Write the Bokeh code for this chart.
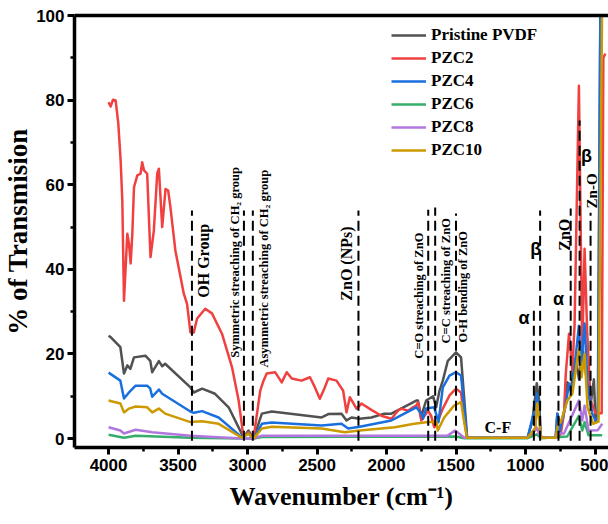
import math

from bokeh.core.properties import value
from bokeh.embed import file_html
from bokeh.models import (ColumnDataSource, FixedTicker, Legend, LegendItem,
                          LinearAxis, Range1d)
from bokeh.plotting import figure
from bokeh.resources import INLINE

# ---- FTIR spectra: wavenumber (cm^-1) and % transmission -------------------
pvdf_wn = [4000, 3985, 3915, 3889, 3865, 3843, 3817, 3735, 3700, 3686,
           3638, 3614, 3593, 3411, 3387, 3327, 3234, 3136, 3029, 2993,
           2957, 2897, 2826, 2467, 2419, 2324, 2288, 2252, 2195, 2109,
           2016, 1965, 1872, 1786, 1774, 1750, 1738, 1715, 1665, 1643,
           1619, 1595, 1559, 1500, 1464, 1440, 1420, 1300, 985, 950,
           919, 902, 890, 783, 771, 747, 711, 699, 675, 639,
           615, 591, 570, 555, 532, 508, 496, 480, 460]
pvdf_t = [24.3, 24.0, 21.6, 15.4, 17.3, 16.5, 19.2, 19.6, 18.4, 15.7,
          18.3, 17.1, 17.7, 12.1, 10.9, 11.8, 10.6, 7.4, 0.3, 1.9,
          0.0, 5.9, 6.4, 5.0, 5.8, 5.9, 4.3, 5.0, 4.7, 5.0,
          5.9, 5.9, 7.5, 9.0, 9.0, 5.0, 6.6, 9.0, 10.0, 7.4,
          11.3, 13.7, 18.4, 20.4, 19.2, 9.0, 0.3, 0.3, 0.2, 4.3,
          13.1, 9.0, 0.2, 0.2, 5.9, 2.7, 8.0, 13.3, 11.5, 19.0,
          14.0, 21.5, 17.0, 12.0, 8.0, 14.0, 4.0, 6.0, 110.0]

pzc2_wn = [4000, 3985, 3968, 3949, 3930, 3913, 3901, 3895, 3889, 3865,
           3853, 3841, 3829, 3817, 3793, 3770, 3758, 3745, 3722, 3705,
           3698, 3674, 3650, 3638, 3614, 3590, 3571, 3555, 3519, 3459,
           3435, 3411, 3387, 3363, 3304, 3256, 3184, 3112, 3064, 3029,
           2993, 2957, 2909, 2885, 2862, 2802, 2754, 2718, 2682, 2611,
           2551, 2515, 2480, 2444, 2419, 2360, 2312, 2288, 2264, 2216,
           2193, 2181, 2109, 2037, 1965, 1918, 1894, 1846, 1810, 1786,
           1774, 1750, 1702, 1679, 1657, 1643, 1595, 1547, 1500, 1464,
           1435, 1421, 1300, 1000, 960, 919, 895, 880, 785, 771,
           760, 747, 723, 711, 687, 663, 647, 616, 592, 575,
           556, 532, 496, 452, 440, 425]
pzc2_t = [79.5, 78.5, 80.1, 79.9, 74.5, 65.7, 56.3, 44.4, 32.6, 48.4,
          46.0, 41.4, 48.4, 59.4, 62.2, 62.6, 65.3, 63.4, 62.6, 48.4,
          42.9, 49.2, 62.6, 63.8, 50.0, 59.0, 58.6, 54.7, 44.4, 34.3,
          31.8, 25.1, 25.1, 28.4, 30.7, 29.6, 24.8, 16.9, 9.0, 0.3,
          1.5, 0.0, 11.3, 13.7, 15.4, 15.7, 13.3, 15.7, 14.2, 13.7,
          14.5, 12.1, 9.4, 12.1, 14.2, 13.7, 11.3, 6.2, 9.8, 7.1,
          7.8, 8.3, 6.8, 5.4, 4.7, 6.6, 7.1, 6.6, 7.4, 7.8,
          8.6, 4.3, 6.6, 5.4, 2.7, 3.1, 7.1, 10.2, 11.8, 10.9,
          3.5, 0.2, 0.2, 0.2, 0.8, 2.5, 1.0, 0.2, 0.2, 1.5,
          0.8, 1.0, 6.0, 15.0, 24.8, 16.0, 27.0, 83.4, 20.8, 44.9,
          24.8, 9.0, 6.0, 6.0, 90.0, 91.0]

pzc4_wn = [4000, 3915, 3889, 3853, 3805, 3722, 3700, 3686, 3638, 3614,
           3411, 3387, 3327, 3208, 3040, 2993, 2957, 2897, 2826, 2467,
           2324, 2276, 2193, 1965, 1872, 1786, 1750, 1738, 1715, 1657,
           1626, 1595, 1547, 1500, 1464, 1435, 1421, 1300, 985, 942,
           930, 919, 902, 890, 783, 771, 755, 747, 711, 687,
           668, 651, 616, 601, 575, 554, 520, 496, 478, 460]
pzc4_t = [15.6, 13.7, 9.5, 10.9, 12.5, 12.5, 11.8, 9.9, 11.6, 10.6,
          6.4, 6.1, 6.5, 5.0, 0.3, 1.2, 0.0, 3.5, 3.8, 3.1,
          3.5, 2.4, 2.8, 4.3, 5.9, 7.4, 5.9, 4.7, 7.1, 7.4,
          3.9, 12.1, 14.9, 15.7, 14.9, 5.0, 0.3, 0.3, 0.2, 5.9,
          3.0, 10.6, 6.0, 0.2, 0.2, 5.9, 1.5, 3.0, 8.0, 13.0,
          10.6, 15.6, 26.7, 16.8, 27.2, 13.0, 5.9, 4.3, 5.0, 110.0]

pzc6_wn = [4000, 3889, 3805, 3411, 3040, 2957, 2897, 1500, 1440, 985,
           919, 890, 700, 616, 592, 575, 547, 448]
pzc6_t = [0.9, 0.2, 0.7, 0.2, 0.0, 0.0, 0.4, 0.5, 0.1, 0.1,
          1.0, 0.1, 0.5, 5.4, 1.9, 3.9, 0.8, 0.8]

pzc8_wn = [4000, 3915, 3889, 3805, 3686, 3411, 3040, 2957, 2897, 2180,
           1560, 1507, 1440, 985, 919, 890, 780, 771, 723, 616,
           592, 575, 547, 480, 448]
pzc8_t = [2.7, 1.9, 1.2, 2.1, 1.5, 0.7, 0.0, 0.0, 0.7, 0.7,
          0.7, 1.9, 0.2, 0.2, 2.6, 0.2, 0.2, 1.2, 1.2, 9.0,
          4.3, 7.8, 1.9, 2.0, 3.5]

pzc10_wn = [4000, 3915, 3889, 3853, 3805, 3722, 3686, 3638, 3593, 3411,
            3327, 3208, 3040, 2993, 2957, 2897, 2826, 2467, 2300, 2193,
            1940, 1800, 1702, 1640, 1631, 1585, 1514, 1464, 1435, 1421,
            1300, 985, 930, 916, 900, 890, 783, 765, 747, 699,
            663, 616, 597, 575, 554, 513, 475, 447]
pzc10_t = [9.0, 8.3, 6.2, 7.1, 7.6, 7.4, 6.2, 7.1, 5.9, 3.9,
           4.1, 3.5, 0.2, 1.2, 0.0, 2.4, 2.8, 2.4, 1.5, 1.9,
           2.7, 3.5, 3.9, 3.9, 1.9, 5.0, 7.8, 8.6, 2.7, 0.2,
           0.2, 0.2, 2.5, 8.3, 4.0, 0.2, 0.2, 3.5, 3.9, 9.0,
           10.6, 21.2, 14.5, 20.0, 7.4, 3.5, 4.0, 110.0]

series_names = ["Pristine PVDF", "PZC2", "PZC4", "PZC6", "PZC8", "PZC10"]
series_colors = ["#515151", "#F14040", "#1A6FDF", "#37AD6B", "#B177DE", "#CC9900"]
series_wn = [pvdf_wn, pzc2_wn, pzc4_wn, pzc6_wn, pzc8_wn, pzc10_wn]
series_t = [pvdf_t, pzc2_t, pzc4_t, pzc6_t, pzc8_t, pzc10_t]

# ---- band assignments: dashed guides and their labels ----------------------
guide_wn = [3400, 3026, 2962, 2202, 1700, 1650, 1500, 940, 895, 763, 675, 611, 532]
guide_top = [53.9, 53.9, 53.9, 53.9, 54.1, 54.6, 53.2, 31.4, 53.9, 30.7, 54.4, 75.2, 53.4]

band_text = ["OH Group", "Symmetric streaching of CH\u2082 group",
             "Asymmetric streaching of CH\u2082 group", "ZnO (NPs)",
             "C=O streaching of ZnO", "C=C streaching of ZnO",
             "O-H bending of ZnO", "ZnO", "Zn-O"]
band_wn = [3315, 3089, 2885, 2288, 1763, 1571, 1452, 723, 520]
band_y = [33.3, 19.1, 16.8, 32.6, 18.9, 22.5, 22.7, 44.4, 54.4]
band_size = ["16px", "12.5px", "12.5px", "16px", "12.5px", "12.5px", "12.5px", "16px", "15px"]

phase_text = ["\u03b1", "\u03b2", "\u03b1", "\u03b2"]
phase_wn = [1010, 926, 763, 561]
phase_y = [28.4, 44.9, 33.1, 66.9]

cf_text = ["C-F"]
cf_wn = [1199]
cf_y = [2.6]

x_ticks = [4000, 3500, 3000, 2500, 2000, 1500, 1000, 500]
y_ticks = [0, 20, 40, 60, 80, 100]

SERIF = "Liberation Serif"
SANS = "Liberation Sans"

p = figure(width=608, height=524, output_backend="svg", toolbar_location=None,
           x_range=Range1d(4245, 403), y_range=Range1d(-2.1, 100),
           min_border_left=72, min_border_right=0, min_border_top=15,
           min_border_bottom=77, background_fill_color="white",
           border_fill_color="white", outline_line_color=None)
p.grid.visible = False

# axes
for ax, ticks, minors in ((p.xaxis[0], x_ticks, [t + 250 for t in x_ticks] + [250]),
                          (p.yaxis[0], y_ticks, [t + 10 for t in y_ticks[:-1]])):
    ax.ticker = FixedTicker(ticks=ticks, minor_ticks=minors)
    ax.axis_line_width = 3.5
    ax.axis_line_color = "black"
    ax.major_tick_line_width = 3
    ax.minor_tick_line_width = 2.5
    ax.major_tick_in = 0
    ax.major_tick_out = 7
    ax.minor_tick_in = 0
    ax.minor_tick_out = 4
    ax.major_label_text_font = SANS
    ax.major_label_text_font_style = "bold"
    ax.major_label_text_font_size = "17px"
    ax.major_label_text_color = "black"
    ax.axis_label_text_font = SERIF
    ax.axis_label_text_font_style = "bold"
    ax.axis_label_text_color = "black"

p.xaxis.axis_label = "Wavenumber (cm\u207b\u00b9)"
p.xaxis.axis_label_text_font_size = "26px"
p.xaxis.major_label_standoff = 4
p.xaxis.axis_label_standoff = 8
p.yaxis.axis_label = "% of Transmision"
p.yaxis.axis_label_text_font_size = "27px"
p.yaxis.major_label_standoff = 3
p.yaxis.axis_label_standoff = 0

top = LinearAxis(ticker=FixedTicker(ticks=[]), axis_line_width=3.5,
                 axis_line_color="black", major_tick_line_color=None,
                 minor_tick_line_color=None, major_label_text_font_size="0px")
p.add_layout(top, "above")

# spectra
items = []
for name, color, wn, t in zip(series_names, series_colors, series_wn, series_t):
    r = p.line(wn, t, line_color=color, line_width=2.5, line_join="round")
    items.append(LegendItem(label=name, renderers=[r]))

# dashed band guides
p.segment(x0=guide_wn, y0=[-0.5] * len(guide_wn), x1=guide_wn, y1=guide_top,
          line_color="black", line_width=2, line_dash="10 5")

band_src = ColumnDataSource(dict(x=band_wn, y=band_y, text=band_text, size=band_size))
p.text(x="x", y="y", text="text", source=band_src, angle=math.pi / 2,
       text_align="left", text_baseline="middle", text_font=value(SERIF),
       text_font_style="bold", text_font_size="size", text_color="black")

p.text(x=phase_wn, y=phase_y, text=phase_text, text_align="center",
       text_baseline="middle", text_font=value(SANS), text_font_style="bold",
       text_font_size="18px", text_color="black")

p.text(x=cf_wn, y=cf_y, text=cf_text, text_align="center",
       text_baseline="middle", text_font=value(SERIF), text_font_style="bold",
       text_font_size="16px", text_color="black")

legend = Legend(items=items, location=(317, 287), orientation="vertical",
                background_fill_alpha=0, border_line_color=None, padding=0,
                spacing=3, glyph_width=35, glyph_height=20, label_height=20,
                label_standoff=5, label_text_font=SERIF,
                label_text_font_style="bold", label_text_font_size="17px",
                label_text_color="black", margin=0)
p.add_layout(legend)

for r in items:
    r.renderers[0].glyph.line_width = 2.5

open("out.html", "w").write(file_html(p, INLINE))
